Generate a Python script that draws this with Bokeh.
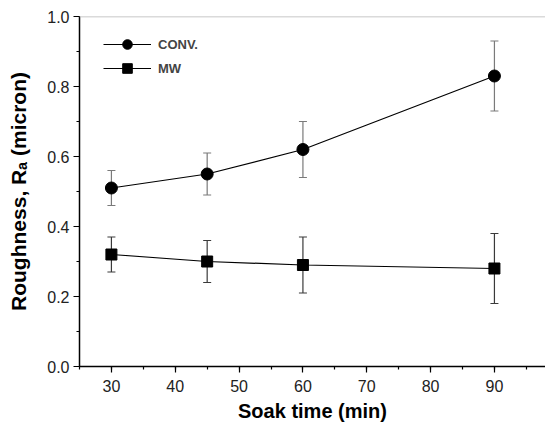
from bokeh.plotting import figure
from bokeh.models import (ColumnDataSource, Whisker, TeeHead, Span, Legend, LegendItem,
                          SingleIntervalTicker, PrintfTickFormatter, Range1d)
from bokeh.embed import file_html
from bokeh.resources import INLINE

# data
soak_time = [30, 45, 60, 90]
conv_ra = [0.51, 0.55, 0.62, 0.83]
conv_err = [0.05, 0.06, 0.08, 0.10]
mw_ra = [0.32, 0.30, 0.29, 0.28]
mw_err = [0.05, 0.06, 0.08, 0.10]
series_names = ["CONV.", "MW"]
x_title = "Soak time (min)"
y_title = "Roughness, R\u2090 (micron)"

FONT = "Liberation Sans"
X0, X1 = 25, 98.0

p = figure(width=545, height=427, output_backend="svg", toolbar_location=None,
           x_range=Range1d(X0, X1), y_range=Range1d(0, 1.0),
           min_border_left=79, min_border_right=0, min_border_top=16, min_border_bottom=61)
p.xgrid.visible = False
p.ygrid.visible = False
p.outline_line_color = None
p.background_fill_color = "white"
p.border_fill_color = "white"

conv_src = ColumnDataSource(dict(x=soak_time, y=conv_ra,
                                 lo=[v - e for v, e in zip(conv_ra, conv_err)],
                                 hi=[v + e for v, e in zip(conv_ra, conv_err)]))
mw_src = ColumnDataSource(dict(x=soak_time, y=mw_ra,
                               lo=[v - e for v, e in zip(mw_ra, mw_err)],
                               hi=[v + e for v, e in zip(mw_ra, mw_err)]))

for src, col in ((conv_src, "#7a7a7a"), (mw_src, "#3a3a3a")):
    w = Whisker(source=src, base="x", lower="lo", upper="hi", line_color=col, line_width=1.2,
                upper_head=TeeHead(size=8, line_color=col, line_width=1.2),
                lower_head=TeeHead(size=8, line_color=col, line_width=1.2))
    p.add_layout(w)

l1 = p.line("x", "y", source=conv_src, line_color="black", line_width=1.2)
m1 = p.scatter("x", "y", source=conv_src, marker="circle", size=12, fill_color="black", line_color="black")
l2 = p.line("x", "y", source=mw_src, line_color="black", line_width=1.2)
m2 = p.scatter("x", "y", source=mw_src, marker="square", size=11, fill_color="black", line_color="black")

p.add_layout(Span(location=1.0, dimension="width", line_color="#b5b5b5", line_width=1.5))

legend = Legend(items=[LegendItem(label=series_names[0], renderers=[l1, m1]),
                       LegendItem(label=series_names[1], renderers=[l2, m2])],
                location=(24, 286), margin=0, padding=0, spacing=0,
                glyph_width=48, glyph_height=24, label_height=20, label_standoff=7,
                label_text_font=FONT, label_text_font_style="bold", label_text_font_size="13px",
                border_line_color=None, background_fill_alpha=0)
p.add_layout(legend)

p.xaxis.ticker = SingleIntervalTicker(interval=10, num_minor_ticks=2)
p.yaxis.ticker = SingleIntervalTicker(interval=0.2, num_minor_ticks=2)
p.yaxis.formatter = PrintfTickFormatter(format="%.1f")

for ax in (p.xaxis[0], p.yaxis[0]):
    ax.axis_line_color = "black"
    ax.axis_line_width = 1.5
    ax.major_tick_line_color = "black"
    ax.minor_tick_line_color = "black"
    ax.major_tick_line_width = 1.2
    ax.minor_tick_line_width = 1.2
    ax.major_tick_in = 0
    ax.major_tick_out = 6
    ax.minor_tick_in = 0
    ax.minor_tick_out = 3
    ax.major_label_text_font = FONT
    ax.major_label_text_font_size = "16px"
    ax.major_label_text_color = "#222222"
    ax.axis_label_text_font = FONT
    ax.axis_label_text_font_style = "bold"
    ax.axis_label_text_color = "black"

p.xaxis.axis_label = x_title
p.xaxis.axis_label_text_font_size = "20px"
p.xaxis.axis_label_standoff = 5
p.xaxis.major_label_standoff = 7
p.yaxis.axis_label = y_title
p.yaxis.axis_label_text_font_size = "21px"
p.yaxis.major_label_standoff = 4
p.yaxis.axis_label_standoff = 14

open("out.html", "w").write(file_html(p, INLINE))
